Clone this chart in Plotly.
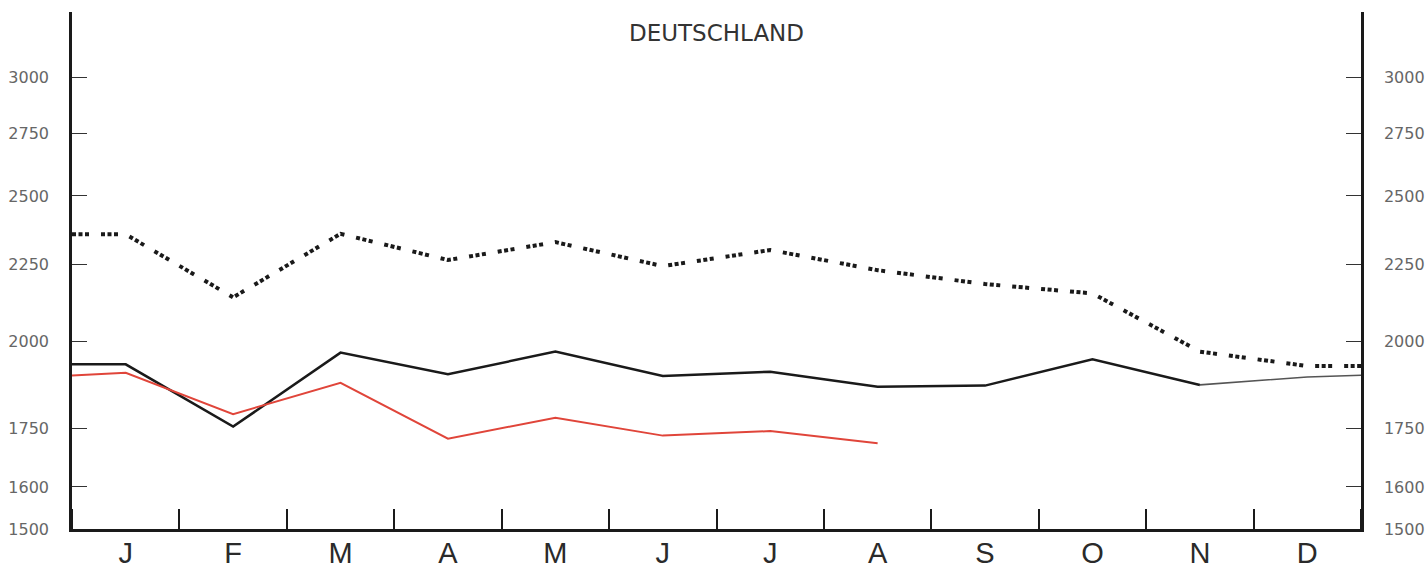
import math
import plotly.graph_objects as go

months = ["J", "F", "M", "A", "M", "J", "J", "A", "S", "O", "N", "D"]
y_ticks = [1500, 1600, 1750, 2000, 2250, 2500, 2750, 3000]

# values at month centres; *_start / *_end = value where the line meets the side axes
dotted_vals = [2357, 2140, 2359, 2266, 2329, 2245, 2301, 2231, 2184, 2153, 1969, 1926]
dotted_start, dotted_end = 2357, 1926

black_vals = [1931, 1755, 1966, 1902, 1969, 1897, 1909, 1866, 1869, 1946, 1871, 1894]
black_start, black_end = 1931, 1899

red_vals = [1906, 1789, 1877, 1723, 1779, 1731, 1743, 1711]
red_start = 1898

y_min, y_max = 1500, 3315

centres = [i + 0.5 for i in range(len(months))]

fig = go.Figure()

# dotted series (on right axis, identical scale)
fig.add_trace(go.Scatter(
    x=[0] + centres + [len(months)],
    y=[dotted_start] + dotted_vals + [dotted_end],
    mode="lines",
    line=dict(color="#1a1a1a", width=4, dash="4px,2.5px,4px,2.5px,4px,12px"),
    yaxis="y2", hoverinfo="skip", showlegend=False,
))

# black solid series, main part
fig.add_trace(go.Scatter(
    x=[0] + centres[:11],
    y=[black_start] + black_vals[:11],
    mode="lines",
    line=dict(color="#1a1a1a", width=2.5),
    hoverinfo="skip", showlegend=False,
))
# black series, faint tail
fig.add_trace(go.Scatter(
    x=centres[10:] + [len(months)],
    y=black_vals[10:] + [black_end],
    mode="lines",
    line=dict(color="#555555", width=1.6),
    hoverinfo="skip", showlegend=False,
))

# red series
fig.add_trace(go.Scatter(
    x=[0] + centres[:len(red_vals)],
    y=[red_start] + red_vals,
    mode="lines",
    line=dict(color="#e0453a", width=2),
    hoverinfo="skip", showlegend=False,
))

yaxis_common = dict(
    type="log",
    range=[math.log10(y_min), math.log10(y_max)],
    tickvals=y_ticks,
    ticktext=[str(v) for v in y_ticks],
    ticks="inside", ticklen=15, tickwidth=1.3, tickcolor="#333333",
    showgrid=False, zeroline=False,
    showline=True, linecolor="#1a1a1a", linewidth=2.5,
    tickfont=dict(family="DejaVu Sans, sans-serif", size=16, color="#666666"),
    ticklabelstandoff=17,
    automargin=False,
)

fig.update_layout(
    width=1425, height=570,
    margin=dict(l=72, r=64, t=12, b=41),
    paper_bgcolor="white", plot_bgcolor="white",
    title=dict(
        text="DEUTSCHLAND", xref="paper", x=0.5, xanchor="center", y=1 - 33 / 570, yanchor="middle",
        font=dict(family="DejaVu Sans, sans-serif", size=23, color="#333333"),
    ),
    xaxis=dict(
        range=[0, len(months)],
        tickvals=centres, ticktext=months, ticks="",
        tickfont=dict(family="Liberation Sans, Arial, sans-serif", size=29, color="#2a2a2a"),
        showgrid=False, zeroline=False,
        showline=True, linecolor="#1a1a1a", linewidth=2.5,
        minor=dict(tick0=0, dtick=1, ticks="inside", ticklen=20, tickwidth=2, tickcolor="#1a1a1a", showgrid=False),
        ticklabelstandoff=-4,
        automargin=False,
    ),
    yaxis=dict(**yaxis_common, side="left"),
    yaxis2=dict(**yaxis_common, side="right", overlaying="y"),
)

fig.write_html(
    "out.html",
    config={"displayModeBar": False},
    post_script="document.body.style.margin='0px';document.body.style.overflow='hidden';",
)
